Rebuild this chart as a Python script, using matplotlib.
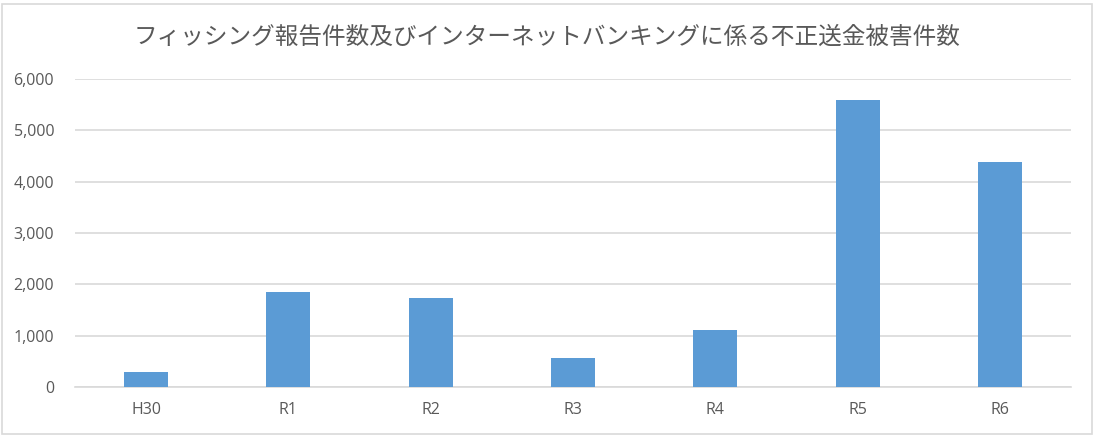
import numpy as np
import matplotlib.pyplot as plt
from matplotlib.patches import Rectangle
from matplotlib.ticker import FuncFormatter

plt.rcParams['font.family'] = ['Open Sans', 'Noto Sans CJK JP', 'DejaVu Sans']

# データ
years = ['H30', 'R1', 'R2', 'R3', 'R4', 'R5', 'R6']
counts = [290, 1850, 1735, 565, 1110, 5590, 4385]
title = 'フィッシング報告件数及びインターネットバンキングに係る不正送金被害件数'

fig = plt.figure(figsize=(10.94, 4.38), dpi=100)
ax = fig.add_axes([75/1094, 51/438, 996/1094, 308/438])

x = np.arange(len(years))
ax.bar(x, counts, width=0.31, color='#5b9bd5', zorder=3)

ax.set_xlim(-0.5, len(years) - 0.5)
ax.set_ylim(0, 6000)
ax.set_yticks(range(0, 6001, 1000))
ax.yaxis.set_major_formatter(FuncFormatter(lambda v, p: f'{int(v):,}'))
ax.set_xticks(x)
ax.set_xticklabels(years)

ax.grid(axis='y', color='#d9d9d9', lw=1.2, zorder=0)
for s in ['top', 'right', 'left']:
    ax.spines[s].set_visible(False)
ax.spines['bottom'].set_color('#d9d9d9')
ax.spines['bottom'].set_linewidth(1.2)
ax.tick_params(axis='both', length=0, colors='#595959', labelsize=11.5)
ax.tick_params(axis='y', pad=15)
ax.tick_params(axis='x', pad=11)

fig.text(0.5, 1 - 37/438, title, ha='center', va='center', fontsize=17,
         color='#595959', family=['Noto Sans CJK JP', 'DejaVu Sans'])

# 外枠
fig.patches.append(Rectangle((2/1094, 4/438), 1090/1094, 430/438, transform=fig.transFigure,
                             fill=False, edgecolor='#d9d9d9', lw=1.2))

fig.savefig('out.png', dpi=100)
